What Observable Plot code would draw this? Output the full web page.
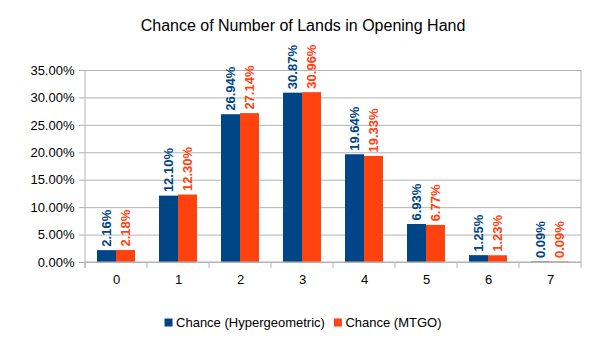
<!DOCTYPE html>
<html>
<head>
<meta charset="utf-8">
<script src="https://cdn.jsdelivr.net/npm/d3@7"></script>
<script src="https://cdn.jsdelivr.net/npm/@observablehq/plot@0.6"></script>
<style>
  body { margin: 0; background: white; }
  #chart svg { display: block; }
</style>
</head>
<body>
<div id="chart"></div>
<script>
const title = "Chance of Number of Lands in Opening Hand";
const categories = ["0", "1", "2", "3", "4", "5", "6", "7"];
const series = ["Chance (Hypergeometric)", "Chance (MTGO)"];
const hyper = [0.0216, 0.1210, 0.2694, 0.3087, 0.1964, 0.0693, 0.0125, 0.0009];
const mtgo = [0.0218, 0.1230, 0.2714, 0.3096, 0.1933, 0.0677, 0.0123, 0.0009];
const yTicks = [0, 0.05, 0.10, 0.15, 0.20, 0.25, 0.30, 0.35];
const colors = ["#004586", "#ff420e"];

const data = categories.flatMap((c, i) => [
  {cat: c, series: series[0], value: hyper[i]},
  {cat: c, series: series[1], value: mtgo[i]}
]);
const pct = d3.format(".2%");
const font = "'Liberation Sans', Arial, sans-serif";
const gray = "#b3b3b3";

const plot = Plot.plot({
  width: 606,
  height: 341,
  marginLeft: 83,
  marginRight: 24,
  marginTop: 70,
  marginBottom: 79,
  style: {fontFamily: font, fontSize: "13px", color: "#000", background: "white"},
  fx: {domain: categories, padding: 0, label: null, axis: null},
  x: {domain: series, paddingInner: 0, paddingOuter: 0.56, axis: null},
  y: {domain: [0, 0.35], label: null},
  color: {domain: series, range: colors},
  marks: [
    Plot.gridY(yTicks, {stroke: gray, strokeOpacity: 1}),
    Plot.axisY(yTicks, {tickSize: 6, tickPadding: 5, tickFormat: pct, stroke: gray, strokeOpacity: 1, fill: "#000", fontSize: 13, label: null}),
    Plot.axisFx({anchor: "bottom", tickSize: 0, tickPadding: 12, fontSize: 13, fill: "#000", label: null}),
    Plot.barY(data, {fx: "cat", x: "series", y: "value", fill: "series"}),
    Plot.text(data, {
      fx: "cat", x: "series", y: "value", text: d => pct(d.value),
      rotate: -90, textAnchor: "start", lineAnchor: "middle", dy: -4,
      fill: "series", fontWeight: "bold", fontSize: 13
    })
  ]
});

document.getElementById("chart").appendChild(plot);

const svg = d3.select(plot);
const fx = plot.scale("fx");
const y = plot.scale("y");
const color = plot.scale("color");
const bw = fx.bandwidth;
const x0 = fx.apply(categories[0]);
const x1 = fx.apply(categories[categories.length - 1]) + bw;
const yb = y.apply(0), yt = y.apply(0.35);

const g = svg.append("g").attr("stroke", gray).attr("fill", "none");
// axis lines
g.append("line").attr("x1", x0).attr("x2", x0).attr("y1", yt).attr("y2", yb + 6);
g.append("line").attr("x1", x1).attr("x2", x1).attr("y1", yt).attr("y2", yb + 6);
g.append("line").attr("x1", x0).attr("x2", x1).attr("y1", yb).attr("y2", yb);
// category boundary ticks
categories.forEach(c => {
  const bx = fx.apply(c);
  g.append("line").attr("x1", bx).attr("x2", bx).attr("y1", yb).attr("y2", yb + 6);
});

// title
svg.append("text")
  .attr("x", 303).attr("y", 31)
  .attr("text-anchor", "middle")
  .attr("font-family", font).attr("font-size", 16).attr("fill", "#000")
  .text(title);

// legend
const lg = svg.append("g").attr("font-family", font).attr("font-size", 13).attr("text-anchor", "start");
let cx = 0;
series.forEach(s => {
  const it = lg.append("g");
  it.append("rect").attr("width", 8).attr("height", 8).attr("y", -8).attr("fill", color.apply(s));
  const t = it.append("text").attr("x", 11.5).attr("y", 0).attr("fill", "#000").attr("text-anchor", "start").text(s);
  const w = t.node().getComputedTextLength();
  it.attr("transform", `translate(${cx},0)`);
  cx += 11.5 + w + 9;
});
const total = cx - 9;
lg.attr("transform", `translate(${303 - total / 2},326.5)`);
</script>
</body>
</html>
